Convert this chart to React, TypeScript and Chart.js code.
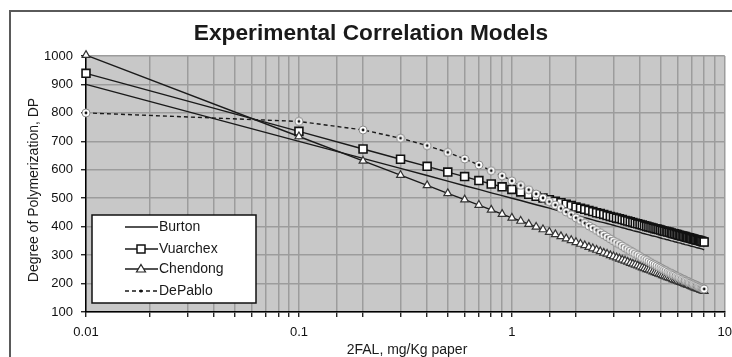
import React, { useEffect, useRef } from 'react';
import { Chart, registerables } from 'chart.js';
Chart.register(...registerables);

const titleText = 'Experimental Correlation Models';
const xTitle = '2FAL, mg/Kg paper';
const yTitle = 'Degree of Polymerization, DP';
const seriesNames = ['Burton', 'Vuarchex', 'Chendong', 'DePablo'];
const xTickLabels = ['0.01', '0.1', '1', '10'];

const xValues = [
  0.01,
  0.1, 0.2, 0.3, 0.4, 0.5, 0.6, 0.7, 0.8, 0.9, 1.0,
  1.1, 1.2, 1.3, 1.4, 1.5, 1.6, 1.7, 1.8, 1.9, 2.0,
  2.1, 2.2, 2.3, 2.4, 2.5, 2.6, 2.7, 2.8, 2.9, 3.0,
  3.1, 3.2, 3.3, 3.4, 3.5, 3.6, 3.7, 3.8, 3.9, 4.0,
  4.1, 4.2, 4.3, 4.4, 4.5, 4.6, 4.7, 4.8, 4.9, 5.0,
  5.1, 5.2, 5.3, 5.4, 5.5, 5.6, 5.7, 5.8, 5.9, 6.0,
  6.1, 6.2, 6.3, 6.4, 6.5, 6.6, 6.7, 6.8, 6.9, 7.0,
  7.1, 7.2, 7.3, 7.4, 7.5, 7.6, 7.7, 7.8, 7.9, 8.0,
];

const burton = [
  900,
  700, 640, 605, 580, 560, 544, 531, 519, 509, 500,
  492, 484, 477, 471, 465, 459, 454, 449, 444, 440,
  436, 432, 428, 424, 420, 417, 414, 411, 408, 405,
  402, 399, 396, 394, 391, 389, 386, 384, 382, 380,
  377, 375, 373, 371, 369, 367, 366, 364, 362, 360,
  358, 357, 355, 354, 352, 350, 349, 347, 346, 344,
  343, 342, 340, 339, 337, 336, 335, 334, 332, 331,
  330, 329, 327, 326, 325, 324, 323, 322, 320, 319,
];

const vuarchex = [
  939,
  735, 673, 637, 612, 592, 576, 562, 550, 540, 531,
  522, 514, 507, 501, 495, 489, 484, 479, 474, 469,
  465, 461, 457, 453, 449, 446, 443, 439, 436, 433,
  430, 428, 425, 422, 420, 417, 415, 412, 410, 408,
  406, 403, 401, 399, 397, 395, 393, 392, 390, 388,
  386, 384, 383, 381, 380, 378, 376, 375, 373, 372,
  370, 369, 367, 366, 365, 363, 362, 361, 359, 358,
  357, 356, 354, 353, 352, 351, 350, 349, 347, 346,
];

const chendong = [
  1003,
  717, 631, 581, 545, 517, 495, 476, 459, 444, 431,
  420, 409, 399, 390, 381, 373, 366, 358, 352, 345,
  339, 334, 328, 323, 318, 313, 308, 304, 299, 295,
  291, 287, 283, 280, 276, 272, 269, 266, 263, 259,
  256, 253, 250, 248, 245, 242, 239, 237, 234, 232,
  229, 227, 224, 222, 220, 218, 215, 213, 211, 209,
  207, 205, 203, 201, 199, 197, 195, 194, 192, 190,
  188, 186, 185, 183, 181, 180, 178, 177, 175, 173,
];

const dePablo = [
  800,
  770, 740, 711, 685, 661, 638, 617, 597, 579, 561,
  545, 530, 515, 501, 488, 476, 464, 452, 442, 431,
  422, 412, 403, 395, 387, 379, 371, 364, 357, 350,
  344, 338, 332, 326, 320, 315, 310, 305, 300, 295,
  290, 286, 282, 277, 273, 269, 266, 262, 258, 255,
  251, 248, 245, 241, 238, 235, 232, 230, 227, 224,
  221, 219, 216, 214, 211, 209, 207, 204, 202, 200,
  198, 196, 194, 192, 190, 188, 186, 184, 182, 181,
];

const FONT = '"Liberation Sans", Arial, sans-serif';
const LINE = '#1a1a1a';

function makeCircleMarker(): HTMLCanvasElement {
  const c = document.createElement('canvas');
  c.width = 10;
  c.height = 10;
  const g = c.getContext('2d')!;
  g.beginPath();
  g.arc(5, 5, 4, 0, Math.PI * 2);
  g.fillStyle = '#ffffff';
  g.fill();
  g.lineWidth = 1;
  g.strokeStyle = '#8a8a8a';
  g.stroke();
  g.beginPath();
  g.arc(5, 5, 1.4, 0, Math.PI * 2);
  g.fillStyle = '#111';
  g.fill();
  return c;
}

function pts(ys: number[]) {
  return xValues.map((x, i) => ({ x, y: ys[i] }));
}

export default function App() {
  const ref = useRef<HTMLCanvasElement>(null);
  useEffect(() => {
    document.body.style.margin = '0';
    document.body.style.overflow = 'hidden';
    const canvas = ref.current!;
    const circle = makeCircleMarker();

    const decor = {
      id: 'decor',
      beforeDraw(chart: any) {
        const { ctx, chartArea: a } = chart;
        ctx.save();
        ctx.fillStyle = '#ffffff';
        ctx.fillRect(0, 0, chart.width, chart.height);
        ctx.fillStyle = '#c8c8c8';
        ctx.fillRect(a.left, a.top, a.right - a.left, a.bottom - a.top);
        // outer frame (left and top edges visible)
        ctx.strokeStyle = '#5a5a5a';
        ctx.lineWidth = 2;
        ctx.beginPath();
        ctx.moveTo(10, chart.height + 5);
        ctx.lineTo(10, 11);
        ctx.lineTo(chart.width + 5, 11);
        ctx.stroke();
        // title
        ctx.fillStyle = '#1a1a1a';
        ctx.font = `bold 22.7px ${FONT}`;
        ctx.textAlign = 'center';
        ctx.textBaseline = 'alphabetic';
        ctx.fillText(titleText, 371, 40);
        // axis titles
        ctx.font = `14px ${FONT}`;
        ctx.textBaseline = 'middle';
        ctx.fillText(xTitle, 407, 350);
        ctx.save();
        ctx.translate(34, 190);
        ctx.rotate(-Math.PI / 2);
        ctx.fillText(yTitle, 0, 0);
        ctx.restore();
        ctx.restore();
      },
      afterDraw(chart: any) {
        const { ctx } = chart;
        ctx.save();
        // legend box
        ctx.fillStyle = '#ffffff';
        ctx.fillRect(92, 215, 164, 88);
        ctx.strokeStyle = '#111';
        ctx.lineWidth = 1.5;
        ctx.strokeRect(92, 215, 164, 88);
        const rows = [227, 249, 269, 291];
        ctx.font = `14px ${FONT}`;
        ctx.textAlign = 'left';
        ctx.textBaseline = 'middle';
        rows.forEach((y, i) => {
          ctx.strokeStyle = LINE;
          ctx.lineWidth = 1.3;
          ctx.setLineDash(i === 3 ? [4, 3] : []);
          ctx.beginPath();
          ctx.moveTo(125, y);
          ctx.lineTo(158, y);
          ctx.stroke();
          ctx.setLineDash([]);
          const cx = 141;
          if (i === 1) {
            ctx.fillStyle = '#fff';
            ctx.fillRect(cx - 4, y - 4, 8, 8);
            ctx.strokeStyle = '#111';
            ctx.lineWidth = 1.5;
            ctx.strokeRect(cx - 4, y - 4, 8, 8);
          } else if (i === 2) {
            ctx.fillStyle = '#fff';
            ctx.strokeStyle = '#222';
            ctx.lineWidth = 1.2;
            ctx.beginPath();
            ctx.moveTo(cx, y - 4.5);
            ctx.lineTo(cx + 4.5, y + 3);
            ctx.lineTo(cx - 4.5, y + 3);
            ctx.closePath();
            ctx.fill();
            ctx.stroke();
          } else if (i === 3) {
            ctx.fillStyle = '#111';
            ctx.beginPath();
            ctx.arc(cx, y, 1.6, 0, Math.PI * 2);
            ctx.fill();
          }
          ctx.fillStyle = '#1a1a1a';
          ctx.fillText(seriesNames[i], 159, y);
        });
        ctx.restore();
      },
    };

    const isPow10 = (v: number) => Math.abs(Math.log10(v) - Math.round(Math.log10(v))) < 1e-6;

    const chart = new Chart(canvas, {
      type: 'line',
      data: {
        datasets: [
          {
            label: seriesNames[0],
            data: pts(burton),
            borderColor: LINE,
            borderWidth: 1.4,
            pointRadius: 0,
            order: 3,
            clip: false as any,
          },
          {
            label: seriesNames[1],
            data: pts(vuarchex),
            borderColor: LINE,
            borderWidth: 1.4,
            pointStyle: 'rect',
            pointRadius: 5.6,
            pointBackgroundColor: '#ffffff',
            pointBorderColor: '#111',
            pointBorderWidth: 1.6,
            order: 2,
            clip: false as any,
          },
          {
            label: seriesNames[2],
            data: pts(chendong),
            borderColor: LINE,
            borderWidth: 1.4,
            pointStyle: 'triangle',
            pointRadius: 4.5,
            pointBackgroundColor: '#ffffff',
            pointBorderColor: '#333',
            pointBorderWidth: 1.2,
            order: 1,
            clip: false as any,
          },
          {
            label: seriesNames[3],
            data: pts(dePablo),
            borderColor: LINE,
            borderWidth: 1.4,
            borderDash: [4, 3],
            pointStyle: circle as any,
            pointRadius: 5,
            order: 0,
            clip: false as any,
          },
        ],
      },
      options: {
        responsive: false,
        animation: false,
        devicePixelRatio: 1,
        layout: { padding: { top: 56, right: 7, left: 0, bottom: 0 } },
        plugins: { legend: { display: false }, title: { display: false }, tooltip: { enabled: false } },
        scales: {
          x: {
            type: 'logarithmic',
            min: 0.01,
            max: 10,
            afterFit: (s: any) => {
              s.height = 45;
              s.paddingLeft = 0;
              s.paddingRight = 0;
            },
            grid: { color: '#9c9c9c', lineWidth: 1.5, tickLength: 5, tickColor: '#000', tickWidth: 1.2 },
            border: { color: '#000', width: 1.5 },
            ticks: {
              autoSkip: false,
              maxRotation: 0,
              padding: 8,
              color: '#111',
              font: { family: FONT, size: 13 },
              callback: (v: any) => {
                const n = Number(v);
                if (!isPow10(n)) return '';
                const idx = Math.round(Math.log10(n)) + 2;
                return xTickLabels[idx] ?? '';
              },
            },
          },
          y: {
            type: 'linear',
            min: 100,
            max: 1000,
            afterFit: (s: any) => {
              s.width = 86;
              s.paddingTop = 0;
              s.paddingBottom = 0;
            },
            grid: { color: '#9c9c9c', lineWidth: 1.5, tickLength: 5, tickColor: '#000', tickWidth: 1.2 },
            border: { color: '#000', width: 1.5 },
            ticks: {
              stepSize: 100,
              padding: 8,
              color: '#111',
              font: { family: FONT, size: 13 },
              callback: (v: any) => String(v),
            },
          },
        },
      },
      plugins: [decor],
    } as any);
    return () => chart.destroy();
  }, []);
  return (
    <div style={{ width: 732, height: 357 }}>
      <canvas ref={ref} width={732} height={357} style={{ display: 'block', width: 732, height: 357 }} />
    </div>
  );
}
